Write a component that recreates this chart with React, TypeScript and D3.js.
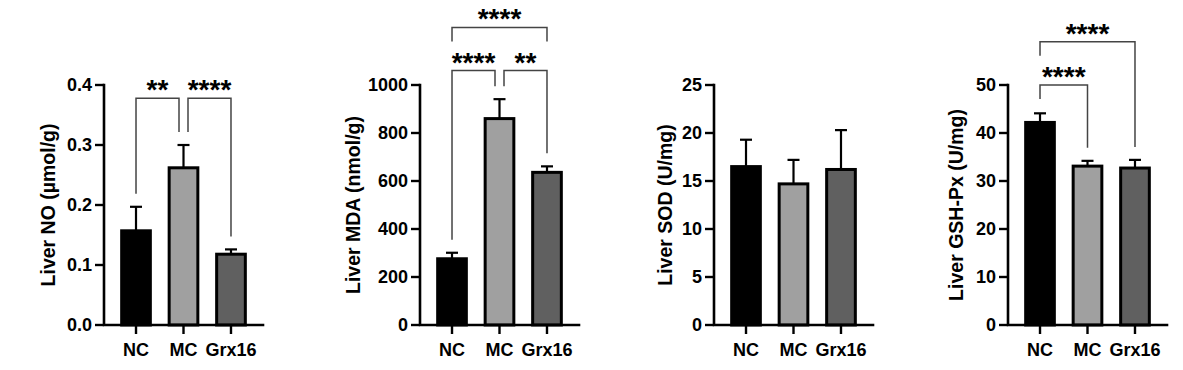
import React from "react";
import { scaleBand, scaleLinear, format } from "d3";

const groups = ["NC", "MC", "Grx16"];
const fills = ["#000000", "#a0a0a0", "#606060"];

// Liver NO (umol/g)
const noMean = [0.157, 0.262, 0.118];
const noErr = [0.04, 0.038, 0.008];
// Liver MDA (nmol/g)
const mdaMean = [276, 860, 636];
const mdaErr = [25, 81, 25];
// Liver SOD (U/mg)
const sodMean = [16.5, 14.7, 16.2];
const sodErr = [2.8, 2.5, 4.1];
// Liver GSH-Px (U/mg)
const gshMean = [42.2, 33.1, 32.7];
const gshErr = [1.9, 1.1, 1.7];

// significance brackets: groups compared, label, bracket level (data units)
const noSig = [
  { a: 0, b: 1, label: "**", level: 0.378, legs: ["long", "long"], inset: [0, 4.5] },
  { a: 1, b: 2, label: "****", level: 0.378, legs: ["long", "long"], inset: [4.5, 0] },
];
const mdaSig = [
  { a: 0, b: 1, label: "****", level: 1060, legs: ["long", "long"], inset: [0, 4.5] },
  { a: 1, b: 2, label: "**", level: 1060, legs: ["long", "long"], inset: [4.5, 0] },
  { a: 0, b: 2, label: "****", level: 1240, legs: ["short", "short"], inset: [0, 0] },
];
const sodSig: any[] = [];
const gshSig = [
  { a: 0, b: 1, label: "****", level: 50, legs: ["short", "long"], inset: [0, 0] },
  { a: 0, b: 2, label: "****", level: 59, legs: ["short", "long"], inset: [0, 0] },
];

const panels = [
  { title: "Liver NO (µmol/g)", mean: noMean, err: noErr, max: 0.4, fmt: ".1f", sig: noSig, left: 104, titleOff: 56 },
  { title: "Liver MDA (nmol/g)", mean: mdaMean, err: mdaErr, max: 1000, fmt: "d", sig: mdaSig, left: 420, titleOff: 67 },
  { title: "Liver SOD (U/mg)", mean: sodMean, err: sodErr, max: 25, fmt: "d", sig: sodSig, left: 714, titleOff: 49 },
  { title: "Liver GSH-Px (U/mg)", mean: gshMean, err: gshErr, max: 50, fmt: "d", sig: gshSig, left: 1008, titleOff: 52 },
];

const W = 1183;
const H = 370;
const top = 85;
const bottom = 325;
const plotW = 159;
const font = "'Liberation Sans', Arial, sans-serif";

function Panel({ p }: { p: any }) {
  const x = scaleBand().domain(groups).range([0, plotW]).paddingInner(0.396).paddingOuter(0.372);
  const y = scaleLinear().domain([0, p.max]).range([bottom, top]);
  const ticks = y.ticks(5);
  const f = format(p.fmt);
  const bw = x.bandwidth();
  const cx = (i: number) => (x(groups[i]) as number) + bw / 2;
  const errTop = (i: number) => y(p.mean[i] + p.err[i]);

  return (
    <g transform={`translate(${p.left},0)`}>
      {/* bars */}
      {groups.map((g, i) => (
        <g key={g}>
          <line x1={cx(i)} x2={cx(i)} y1={y(p.mean[i])} y2={errTop(i)} stroke="#000" strokeWidth={2.2} />
          <line x1={cx(i) - 6} x2={cx(i) + 6} y1={errTop(i)} y2={errTop(i)} stroke="#000" strokeWidth={2.2} />
          <rect
            x={x(g)}
            y={y(p.mean[i])}
            width={bw}
            height={bottom - y(p.mean[i])}
            fill={fills[i]}
            stroke="#000"
            strokeWidth={3}
          />
        </g>
      ))}

      {/* axes */}
      <path d={`M0,${top}V${bottom}H${plotW}`} fill="none" stroke="#000" strokeWidth={2.6} strokeLinecap="square" />
      {ticks.map((t) => (
        <g key={t}>
          <line x1={-9} x2={0} y1={y(t)} y2={y(t)} stroke="#000" strokeWidth={2.4} />
          <text
            x={-12}
            y={y(t)}
            dy="0.36em"
            textAnchor="end"
            fontSize={18}
            fontWeight="bold"
            fontFamily={font}
          >
            {f(t)}
          </text>
        </g>
      ))}
      {groups.map((g, i) => (
        <g key={g}>
          <line x1={cx(i)} x2={cx(i)} y1={bottom} y2={bottom + 9} stroke="#000" strokeWidth={2.4} />
          <text x={cx(i)} y={356} textAnchor="middle" fontSize={18} fontWeight="bold" fontFamily={font}>
            {g}
          </text>
        </g>
      ))}
      <text
        transform={`translate(${-p.titleOff},${(top + bottom) / 2}) rotate(-90)`}
        textAnchor="middle"
        dy="0.36em"
        fontSize={19.5}
        fontWeight="bold"
        fontFamily={font}
      >
        {p.title}
      </text>

      {/* significance */}
      {p.sig.map((s: any, k: number) => {
        const ly = y(s.level);
        const x1 = cx(s.a) + s.inset[0];
        const x2 = cx(s.b) - s.inset[1];
        const leg = (i: number, mode: string) => (mode === "short" ? ly + 14 : errTop(i) - 13);
        return (
          <g key={k}>
            <path
              d={`M${x1},${leg(s.a, s.legs[0])}V${ly}H${x2}V${leg(s.b, s.legs[1])}`}
              fill="none"
              stroke="#444"
              strokeWidth={1.5}
            />
            <text
              x={(x1 + x2) / 2}
              y={ly + 1}
              textAnchor="middle"
              fontSize={28}
              fontWeight="bold"
              fontFamily={font}
            >
              {s.label}
            </text>
          </g>
        );
      })}
    </g>
  );
}

export default function App() {
  return (
    <svg width={W} height={H} style={{ position: "absolute", left: 0, top: 0, background: "#fff" }}>
      {panels.map((p) => (
        <Panel key={p.title} p={p} />
      ))}
    </svg>
  );
}
